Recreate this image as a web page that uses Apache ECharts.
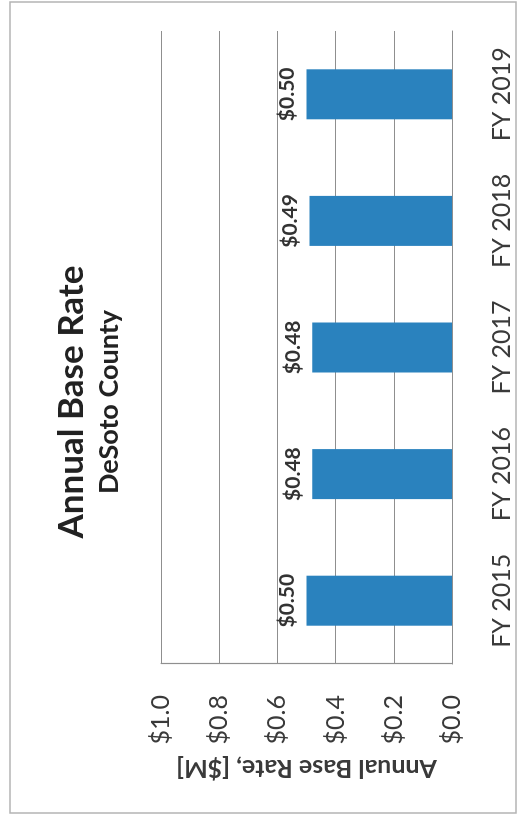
<!DOCTYPE html>
<html>
<head>
<meta charset="utf-8">
<script src="https://cdn.jsdelivr.net/npm/echarts@6/dist/echarts.min.js"></script>
<style>
  html, body { margin: 0; padding: 0; background: #ffffff; overflow: hidden; }
  body { width: 532px; height: 818px; position: relative; }
  /* The chart is laid out landscape and turned a quarter turn counter-clockwise */
  #chart {
    position: absolute; left: 0; top: 0;
    width: 818px; height: 532px;
    transform-origin: 0 0;
    transform: translate(0, 818px) rotate(-90deg);
  }
</style>
</head>
<body>
<div id="chart"></div>
<script>
// Annual base rate by fiscal year, millions of dollars
const categories = ['FY 2015', 'FY 2016', 'FY 2017', 'FY 2018', 'FY 2019'];
const baseRate = [0.50, 0.48, 0.48, 0.49, 0.50];
const valueTicks = [0.0, 0.2, 0.4, 0.6, 0.8, 1.0];

const FONT = 'Lato, "Open Sans", sans-serif';
const chart = echarts.init(document.getElementById('chart'), null, { renderer: 'canvas' });

chart.setOption({
  backgroundColor: '#ffffff',
  animation: false,
  title: [
    {
      text: 'Annual Base Rate',
      left: 411, top: 49, textAlign: 'center',
      textStyle: { fontFamily: FONT, fontSize: 35, fontWeight: 'bold', color: '#222222' }
    },
    {
      text: 'DeSoto County',
      left: 411, top: 91, textAlign: 'center',
      textStyle: { fontFamily: FONT, fontSize: 27, fontWeight: 'bold', color: '#222222' }
    }
  ],
  graphic: [{
    type: 'rect',
    shape: { x: 5, y: 10, width: 811, height: 506 },
    style: { fill: 'none', stroke: '#b4b4b4', lineWidth: 1.5 },
    silent: true
  }],
  grid: { left: 154, right: 31, top: 161, bottom: 80, containLabel: false },
  xAxis: {
    type: 'category',
    data: categories,
    axisLine: { show: true, lineStyle: { color: '#8f8f8f', width: 1.2 } },
    axisTick: { show: false },
    axisLabel: { margin: 37, fontFamily: FONT, fontSize: 25, color: '#3a3a3a' }
  },
  yAxis: {
    type: 'value',
    min: valueTicks[0],
    max: valueTicks[valueTicks.length - 1],
    interval: 0.2,
    name: 'Annual Base Rate, [$M]',
    nameLocation: 'middle',
    nameGap: 83,
    nameTextStyle: { fontFamily: FONT, fontSize: 25, fontWeight: 'bold', color: '#3a3a3a' },
    axisLine: { show: true, lineStyle: { color: '#8f8f8f', width: 1.2 } },
    axisTick: { show: false },
    splitLine: { show: true, lineStyle: { color: '#8f8f8f', width: 1.2 } },
    axisLabel: {
      margin: 31, fontFamily: FONT, fontSize: 25, color: '#3a3a3a',
      formatter: v => '$' + v.toFixed(1)
    }
  },
  series: [{
    type: 'bar',
    data: baseRate,
    barWidth: '39.5%',
    itemStyle: { color: '#2a82be' },
    label: {
      show: true, position: 'top', distance: 9,
      fontFamily: FONT, fontSize: 21, fontWeight: 'bold', color: '#333333',
      formatter: p => '$' + p.value.toFixed(2)
    }
  }]
});
</script>
</body>
</html>
